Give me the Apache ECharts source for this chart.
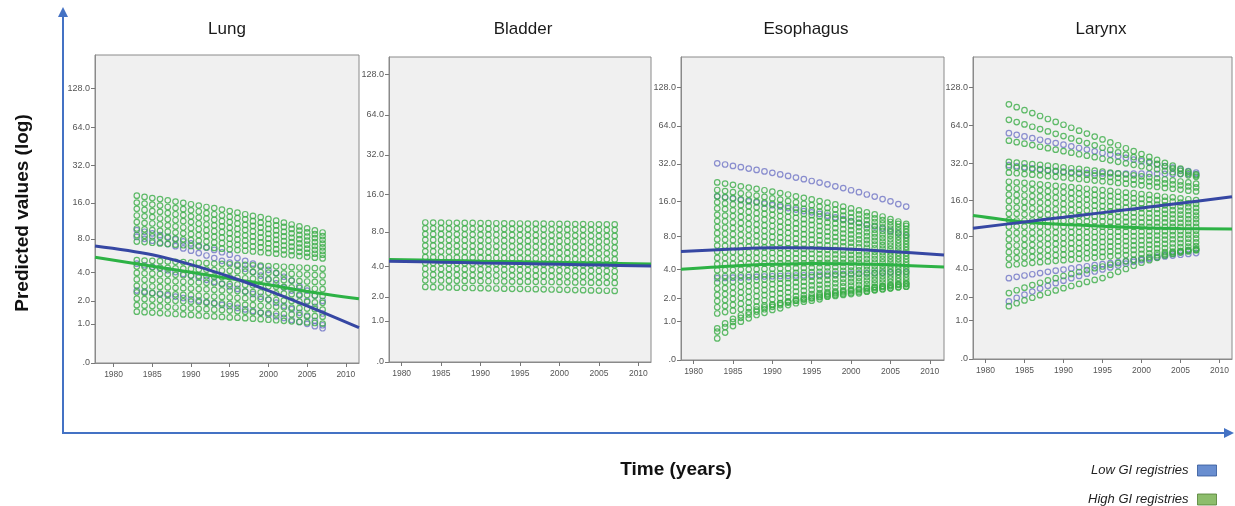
<!DOCTYPE html>
<html><head><meta charset="utf-8">
<script src="https://cdn.jsdelivr.net/npm/echarts@6/dist/echarts.min.js"></script>
<style>html,body{margin:0;padding:0;background:#fff}#c{width:1235px;height:506px}</style>
</head><body><div id="c"></div>
<script>
const years = [1983,1984,1985,1986,1987,1988,1989,1990,1991,1992,1993,1994,1995,1996,1997,1998,1999,2000,2001,2002,2003,2004,2005,2006,2007];
const yTickValues = [0,1,2,4,8,16,32,64,128];
const xTickYears = [1980,1985,1990,1995,2000,2005,2010];
const panelNames = ['Lung','Bladder','Esophagus','Larynx'];
const seriesNames = ['Low GI registries','High GI registries'];

// each row = one registry's predicted values over the years
const lungHigh = [
[7.58,7.49,7.4,7.3,7.21,7.12,7.03,6.93,6.84,6.75,6.66,6.56,6.47,6.38,6.29,6.19,6.1,6.01,5.92,5.82,5.73,5.64,5.55,5.45,5.36],
[8.63,8.51,8.39,8.28,8.16,8.04,7.92,7.8,7.68,7.57,7.45,7.33,7.21,7.09,6.97,6.86,6.74,6.62,6.5,6.38,6.26,6.15,6.03,5.91,5.79],
[9.8,9.65,9.51,9.36,9.21,9.06,8.92,8.77,8.62,8.47,8.33,8.18,8.03,7.88,7.74,7.59,7.44,7.29,7.15,7,6.85,6.7,6.56,6.41,6.26],
[11.1,10.9,10.8,10.6,10.4,10.2,10,9.85,9.66,9.48,9.3,9.12,8.94,8.75,8.57,8.39,8.21,8.03,7.84,7.66,7.48,7.3,7.12,6.93,6.75],
[12.6,12.4,12.2,11.9,11.7,11.5,11.3,11.1,10.8,10.6,10.4,10.2,9.94,9.72,9.5,9.27,9.05,8.83,8.61,8.39,8.17,7.94,7.72,7.5,7.28],
[14.3,14,13.7,13.5,13.2,12.9,12.7,12.4,12.1,11.9,11.6,11.3,11.1,10.8,10.5,10.3,9.99,9.72,9.45,9.19,8.92,8.65,8.38,8.12,7.85],
[16.1,15.8,15.5,15.2,14.8,14.5,14.2,13.9,13.6,13.2,12.9,12.6,12.3,12,11.7,11.3,11,10.7,10.4,10.1,9.73,9.41,9.09,8.77,8.45],
[18.3,17.9,17.5,17.2,16.8,16.4,16,15.6,15.2,14.8,14.5,14.1,13.7,13.3,12.9,12.5,12.2,11.8,11.4,11,10.6,10.2,9.84,9.45,9.07],
[1.48,1.46,1.44,1.42,1.4,1.38,1.36,1.34,1.32,1.3,1.28,1.26,1.24,1.23,1.21,1.19,1.17,1.15,1.13,1.11,1.09,1.07,1.05,1.03,1.01],
[1.78,1.76,1.74,1.72,1.7,1.67,1.65,1.63,1.61,1.59,1.57,1.55,1.53,1.5,1.48,1.46,1.44,1.42,1.4,1.38,1.36,1.33,1.31,1.29,1.27],
[2.12,2.1,2.07,2.05,2.03,2.01,1.98,1.96,1.94,1.91,1.89,1.87,1.85,1.82,1.8,1.78,1.75,1.73,1.71,1.68,1.66,1.64,1.62,1.59,1.57],
[2.49,2.47,2.44,2.42,2.39,2.37,2.34,2.32,2.29,2.27,2.24,2.22,2.19,2.17,2.15,2.12,2.1,2.07,2.05,2.02,2,1.97,1.95,1.92,1.9],
[2.92,2.89,2.87,2.84,2.81,2.78,2.76,2.73,2.7,2.68,2.65,2.62,2.6,2.57,2.54,2.51,2.49,2.46,2.43,2.41,2.38,2.35,2.33,2.3,2.27],
[3.39,3.36,3.33,3.3,3.27,3.24,3.21,3.19,3.16,3.13,3.1,3.07,3.04,3.01,2.98,2.95,2.92,2.89,2.86,2.84,2.81,2.78,2.75,2.72,2.69],
[3.92,3.89,3.86,3.83,3.8,3.76,3.73,3.7,3.67,3.64,3.61,3.58,3.55,3.51,3.48,3.45,3.42,3.39,3.36,3.33,3.3,3.26,3.23,3.2,3.17],
[4.51,4.48,4.44,4.41,4.38,4.34,4.31,4.28,4.24,4.21,4.18,4.14,4.11,4.08,4.04,4.01,3.98,3.94,3.91,3.88,3.84,3.81,3.78,3.74,3.71],
[5.17,5.13,5.1,5.06,5.03,4.99,4.96,4.92,4.88,4.85,4.81,4.78,4.74,4.7,4.67,4.63,4.6,4.56,4.53,4.49,4.45,4.42,4.38,4.35,4.31]
];
const lungLow = [
[9.5,9.2,8.9,8.6,8.3,7.9,7.6,7.3,7,6.7,6.4,6.1,5.8,5.4,5.1,4.8,4.5,4.2,3.9,3.6,3.3,2.9,2.6,2.3,2],
[8.3,8,7.7,7.4,7.2,6.9,6.6,6.3,6,5.7,5.4,5.1,4.9,4.6,4.3,4,3.7,3.4,3.1,2.8,2.6,2.3,2,1.7,1.4],
[4.8,4.64,4.48,4.32,4.16,4,3.84,3.68,3.52,3.36,3.2,3.04,2.88,2.71,2.55,2.39,2.23,2.07,1.91,1.75,1.59,1.43,1.27,1.11,0.95],
[2.6,2.53,2.45,2.38,2.31,2.24,2.16,2.09,2.02,1.94,1.87,1.8,1.73,1.65,1.58,1.51,1.43,1.36,1.29,1.22,1.14,1.07,1,0.92,0.85]
];
const bladderHigh = [
[2.55,2.54,2.53,2.52,2.51,2.5,2.49,2.48,2.47,2.46,2.45,2.44,2.44,2.43,2.42,2.41,2.4,2.39,2.38,2.37,2.36,2.35,2.34,2.33,2.32],
[2.97,2.96,2.96,2.95,2.94,2.93,2.93,2.92,2.91,2.91,2.9,2.89,2.88,2.88,2.87,2.86,2.86,2.85,2.84,2.83,2.83,2.82,2.81,2.81,2.8],
[3.38,3.37,3.36,3.36,3.35,3.34,3.34,3.33,3.32,3.31,3.31,3.3,3.29,3.28,3.28,3.27,3.26,3.25,3.25,3.24,3.23,3.22,3.22,3.21,3.2],
[3.83,3.82,3.81,3.81,3.8,3.79,3.78,3.77,3.76,3.76,3.75,3.74,3.73,3.72,3.71,3.71,3.7,3.69,3.68,3.67,3.66,3.66,3.65,3.64,3.63],
[4.33,4.32,4.31,4.3,4.29,4.29,4.28,4.27,4.26,4.25,4.24,4.23,4.22,4.22,4.21,4.2,4.19,4.18,4.17,4.16,4.15,4.15,4.14,4.13,4.12],
[4.87,4.86,4.85,4.84,4.83,4.82,4.82,4.81,4.8,4.79,4.78,4.77,4.76,4.75,4.74,4.73,4.72,4.71,4.7,4.69,4.68,4.67,4.67,4.66,4.65],
[5.48,5.47,5.46,5.45,5.44,5.43,5.42,5.41,5.4,5.39,5.38,5.37,5.37,5.36,5.35,5.34,5.33,5.32,5.31,5.3,5.29,5.28,5.27,5.26,5.25],
[6.14,6.13,6.12,6.11,6.1,6.09,6.08,6.07,6.06,6.05,6.04,6.03,6.02,6.01,6,5.99,5.98,5.97,5.96,5.95,5.94,5.93,5.92,5.91,5.9],
[6.87,6.86,6.85,6.84,6.83,6.82,6.81,6.8,6.79,6.78,6.77,6.76,6.75,6.73,6.72,6.71,6.7,6.69,6.68,6.67,6.66,6.65,6.64,6.63,6.62],
[7.67,7.66,7.65,7.64,7.63,7.61,7.6,7.59,7.58,7.57,7.56,7.55,7.54,7.52,7.51,7.5,7.49,7.48,7.47,7.46,7.45,7.43,7.42,7.41,7.4],
[8.56,8.55,8.54,8.52,8.51,8.5,8.49,8.48,8.46,8.45,8.44,8.43,8.42,8.4,8.39,8.38,8.37,8.36,8.34,8.33,8.32,8.31,8.29,8.28,8.27],
[9.54,9.53,9.51,9.5,9.48,9.47,9.46,9.44,9.43,9.41,9.4,9.38,9.37,9.36,9.34,9.33,9.31,9.3,9.29,9.27,9.26,9.24,9.23,9.21,9.2]
];
const bladderLow = [];
const esophagusHigh = [
[0.47,0.63,0.83,0.98,1.1,1.23,1.32,1.44,1.51,1.66,1.75,1.83,1.88,1.95,2.09,2.13,2.19,2.24,2.28,2.38,2.48,2.53,2.59,2.66,2.69],
[0.66,0.8,0.97,1.12,1.25,1.37,1.47,1.58,1.66,1.78,1.88,1.96,2.02,2.1,2.2,2.27,2.33,2.4,2.46,2.53,2.6,2.66,2.72,2.8,2.85],
[0.76,0.92,1.08,1.22,1.35,1.46,1.56,1.66,1.75,1.85,1.95,2.03,2.1,2.18,2.26,2.33,2.4,2.47,2.54,2.6,2.67,2.73,2.79,2.86,2.92],
[1.29,1.35,1.41,1.47,1.53,1.59,1.65,1.7,1.76,1.82,1.88,1.94,2,2.06,2.12,2.18,2.24,2.3,2.36,2.41,2.47,2.53,2.59,2.65,2.71],
[1.56,1.62,1.67,1.73,1.79,1.84,1.9,1.95,2.01,2.07,2.12,2.18,2.24,2.29,2.35,2.4,2.46,2.52,2.57,2.63,2.69,2.74,2.8,2.85,2.91],
[1.86,1.91,1.97,2.02,2.07,2.12,2.18,2.23,2.28,2.34,2.39,2.44,2.5,2.55,2.6,2.65,2.71,2.76,2.81,2.87,2.92,2.97,3.02,3.08,3.13],
[2.19,2.24,2.29,2.34,2.39,2.43,2.48,2.53,2.58,2.63,2.68,2.73,2.78,2.82,2.87,2.92,2.97,3.02,3.07,3.12,3.17,3.21,3.26,3.31,3.36],
[2.56,2.6,2.65,2.69,2.73,2.78,2.82,2.86,2.91,2.95,2.99,3.04,3.08,3.12,3.17,3.21,3.25,3.3,3.34,3.38,3.43,3.47,3.51,3.56,3.6],
[2.97,3.01,3.04,3.08,3.12,3.15,3.19,3.23,3.26,3.3,3.34,3.37,3.41,3.45,3.48,3.52,3.56,3.59,3.63,3.67,3.7,3.74,3.78,3.81,3.85],
[3.44,3.47,3.5,3.52,3.55,3.58,3.61,3.64,3.67,3.69,3.72,3.75,3.78,3.81,3.84,3.86,3.89,3.92,3.95,3.98,4.01,4.03,4.06,4.09,4.12],
[3.95,3.97,3.99,4.01,4.03,4.05,4.07,4.08,4.1,4.12,4.14,4.16,4.18,4.2,4.22,4.24,4.26,4.28,4.3,4.31,4.33,4.35,4.37,4.39,4.41],
[4.53,4.54,4.55,4.55,4.56,4.57,4.58,4.58,4.59,4.6,4.61,4.61,4.62,4.63,4.64,4.64,4.65,4.66,4.67,4.67,4.68,4.69,4.7,4.7,4.71],
[5.17,5.16,5.16,5.15,5.15,5.14,5.14,5.13,5.12,5.12,5.11,5.11,5.1,5.09,5.09,5.08,5.08,5.07,5.07,5.06,5.05,5.05,5.04,5.04,5.03],
[5.89,5.87,5.85,5.82,5.8,5.78,5.76,5.74,5.71,5.69,5.67,5.65,5.63,5.6,5.58,5.56,5.54,5.51,5.49,5.47,5.45,5.43,5.4,5.38,5.36],
[6.69,6.65,6.61,6.57,6.53,6.49,6.45,6.4,6.36,6.32,6.28,6.24,6.2,6.16,6.12,6.08,6.04,6,5.96,5.92,5.87,5.83,5.79,5.75,5.71],
[7.58,7.52,7.46,7.39,7.33,7.27,7.21,7.14,7.08,7.02,6.96,6.89,6.83,6.77,6.71,6.64,6.58,6.52,6.46,6.39,6.33,6.27,6.21,6.14,6.08],
[8.58,8.49,8.41,8.32,8.23,8.14,8.06,7.97,7.88,7.79,7.71,7.62,7.53,7.44,7.36,7.27,7.18,7.09,7.01,6.92,6.83,6.74,6.66,6.57,6.48],
[9.7,9.58,9.47,9.35,9.23,9.11,9,8.88,8.76,8.65,8.53,8.41,8.29,8.18,8.06,7.94,7.83,7.71,7.59,7.47,7.36,7.24,7.12,7.01,6.89],
[10.9,10.8,10.6,10.5,10.3,10.2,10,9.89,9.74,9.59,9.44,9.29,9.14,8.98,8.83,8.68,8.53,8.38,8.23,8.08,7.93,7.78,7.63,7.48,7.33],
[12.3,12.1,12,11.8,11.6,11.4,11.2,11,10.8,10.6,10.4,10.3,10.1,9.87,9.68,9.49,9.3,9.11,8.92,8.74,8.55,8.36,8.17,7.98,7.79],
[13.9,13.7,13.4,13.2,13,12.7,12.5,12.3,12,11.8,11.6,11.3,11.1,10.9,10.6,10.4,10.2,9.91,9.68,9.45,9.21,8.98,8.75,8.51,8.28],
[15.6,15.3,15,14.8,14.5,14.2,13.9,13.6,13.3,13.1,12.8,12.5,12.2,11.9,11.6,11.4,11.1,10.8,10.5,10.2,9.93,9.65,9.37,9.08,8.8],
[17.5,17.2,16.9,16.5,16.2,15.8,15.5,15.2,14.8,14.5,14.1,13.8,13.4,13.1,12.8,12.4,12.1,11.7,11.4,11.1,10.7,10.4,10,9.68,9.34],
[19.7,19.3,18.9,18.5,18.1,17.7,17.3,16.8,16.4,16,15.6,15.2,14.8,14.4,14,13.6,13.2,12.8,12.4,12,11.5,11.1,10.7,10.3,9.91],
[22.7,22.2,21.7,21.1,20.6,20.1,19.6,19.1,18.6,18.1,17.5,17,16.5,16,15.5,15,14.4,13.9,13.4,12.9,12.4,11.9,11.3,10.8,10.3]
];
const esophagusLow = [
[32.3,31.6,30.8,30.1,29.3,28.6,27.8,27.1,26.3,25.6,24.8,24.1,23.3,22.6,21.9,21.1,20.4,19.6,18.9,18.1,17.4,16.6,15.9,15.1,14.4],
[17.5,17.1,16.7,16.3,15.9,15.6,15.2,14.8,14.4,14,13.6,13.2,12.9,12.5,12.1,11.7,11.3,10.9,10.5,10.1,9.8,9.4,9,8.6,8.2],
[3.3,3.32,3.34,3.36,3.38,3.4,3.43,3.45,3.47,3.49,3.51,3.53,3.55,3.57,3.59,3.61,3.63,3.66,3.68,3.7,3.72,3.74,3.76,3.78,3.8]
];
const larynxHigh = [
[94,89.2,84.6,80.2,76.1,72.1,68.4,64.9,61.5,58.3,55.3,52.4,49.7,47.1,44.7,42.3,40.1,38,36.1,34.2,32.4,30.7,29.1,27.5,26.1],
[71,68.1,65.3,62.6,60,57.5,55.1,52.8,50.6,48.5,46.5,44.6,42.7,41,39.2,37.6,36,34.5,33.1,31.7,30.4,29.1,27.9,26.7,25.6],
[48.6,47.3,46,44.8,43.5,42.4,41.2,40.1,39,37.9,36.9,35.9,34.9,33.9,33,32.1,31.2,30.4,29.5,28.7,27.9,27.2,26.4,25.7,25],
[33,32.5,32.1,31.6,31.2,30.7,30.3,29.8,29.3,28.9,28.4,28,27.5,27,26.6,26.1,25.7,25.2,24.8,24.3,23.8,23.4,22.9,22.5,22],
[30,29.6,29.2,28.8,28.4,28,27.6,27.2,26.8,26.4,26,25.6,25.2,24.9,24.5,24.1,23.7,23.3,22.9,22.5,22.1,21.7,21.3,20.9,20.5],
[27,26.7,26.3,26,25.7,25.3,25,24.7,24.3,24,23.7,23.3,23,22.7,22.3,22,21.7,21.3,21,20.7,20.3,20,19.7,19.3,19],
[22.8,22.5,22.3,22,21.7,21.4,21.1,20.9,20.6,20.3,20,19.7,19.5,19.2,18.9,18.6,18.4,18.1,17.8,17.5,17.2,17,16.7,16.4,16.1],
[20.2,20,19.8,19.6,19.4,19.1,18.9,18.7,18.5,18.3,18,17.8,17.6,17.4,17.2,17,16.7,16.5,16.3,16.1,15.9,15.7,15.4,15.2,15],
[17.9,17.8,17.6,17.4,17.3,17.1,16.9,16.8,16.6,16.4,16.3,16.1,15.9,15.8,15.6,15.4,15.3,15.1,14.9,14.8,14.6,14.4,14.3,14.1,13.9],
[15.9,15.8,15.6,15.5,15.4,15.3,15.2,15,14.9,14.8,14.7,14.5,14.4,14.3,14.2,14,13.9,13.8,13.7,13.6,13.4,13.3,13.2,13.1,12.9],
[14,14,13.9,13.8,13.7,13.6,13.5,13.5,13.4,13.3,13.2,13.1,13,13,12.9,12.8,12.7,12.6,12.5,12.5,12.4,12.3,12.2,12.1,12],
[12.4,12.4,12.3,12.3,12.2,12.2,12.1,12.1,12,12,11.9,11.8,11.8,11.7,11.7,11.6,11.6,11.5,11.5,11.4,11.4,11.3,11.3,11.2,11.2],
[11,10.9,10.9,10.9,10.9,10.8,10.8,10.8,10.8,10.7,10.7,10.7,10.7,10.6,10.6,10.6,10.6,10.5,10.5,10.5,10.5,10.4,10.4,10.4,10.4],
[9.68,9.68,9.67,9.67,9.67,9.66,9.66,9.66,9.65,9.65,9.65,9.64,9.64,9.64,9.63,9.63,9.63,9.62,9.62,9.62,9.61,9.61,9.61,9.6,9.6],
[8.52,8.54,8.55,8.57,8.58,8.6,8.61,8.63,8.65,8.66,8.68,8.69,8.71,8.73,8.74,8.76,8.77,8.79,8.8,8.82,8.84,8.85,8.87,8.88,8.9],
[7.48,7.51,7.54,7.58,7.61,7.64,7.67,7.7,7.73,7.77,7.8,7.83,7.86,7.89,7.92,7.96,7.99,8.02,8.05,8.08,8.11,8.15,8.18,8.21,8.24],
[6.57,6.61,6.66,6.7,6.75,6.79,6.84,6.88,6.93,6.97,7.02,7.06,7.11,7.15,7.19,7.24,7.28,7.33,7.37,7.42,7.46,7.51,7.55,7.6,7.64],
[5.75,5.8,5.86,5.91,5.97,6.02,6.08,6.13,6.19,6.24,6.3,6.35,6.41,6.46,6.51,6.57,6.62,6.68,6.73,6.79,6.84,6.9,6.95,7.01,7.06],
[5.02,5.08,5.15,5.21,5.27,5.33,5.4,5.46,5.52,5.59,5.65,5.71,5.78,5.84,5.9,5.96,6.03,6.09,6.15,6.22,6.28,6.34,6.4,6.47,6.53],
[4.37,4.44,4.51,4.58,4.65,4.72,4.79,4.85,4.92,4.99,5.06,5.13,5.2,5.27,5.34,5.41,5.48,5.55,5.62,5.68,5.75,5.82,5.89,5.96,6.03],
[2.25,2.42,2.58,2.75,2.91,3.08,3.24,3.41,3.57,3.74,3.9,4.07,4.23,4.4,4.56,4.73,4.89,5.06,5.22,5.39,5.55,5.72,5.88,6.05,6.2],
[1.57,1.71,1.85,1.99,2.13,2.27,2.41,2.55,2.69,2.83,2.97,3.11,3.25,3.5,3.75,4,4.3,4.6,4.85,5.1,5.35,5.55,5.7,5.85,6]
];
const larynxLow = [
[55.7,54.1,52.5,50.9,49.4,48,46.5,45.2,43.8,42.5,41.3,40,38.8,37.7,36.6,35.5,34.4,33.4,32.4,31.4,30.5,29.6,28.7,27.8,27],
[31,30.4,29.8,29.3,28.8,28.3,27.9,27.5,27.2,27,26.8,26.7,26.6,26.6,26.5,26.5,26.5,26.5,26.4,26.4,26.4,26.3,26.3,26.3,26.2],
[3.24,3.35,3.45,3.55,3.65,3.75,3.85,3.95,4.05,4.15,4.25,4.35,4.45,4.55,4.65,4.75,4.85,4.95,5.05,5.15,5.25,5.35,5.45,5.55,5.65],
[1.8,1.98,2.16,2.34,2.52,2.7,2.88,3.06,3.24,3.42,3.6,3.78,3.96,4.14,4.32,4.5,4.68,4.86,5.04,5.22,5.4,5.58,5.76,5.94,6.1]
];

// fitted curves (years and values)
const lungFitYears = [1977.6,1985,1990,1995,2000,2005,2011.7];
const lungLowFit = [6.93,5.8,4.7,3.6,2.6,1.75,0.87];
const lungHighFit = [5.49,4.55,3.98,3.45,3.0,2.55,2.12];
const bladderFitYears = [1978.4,1985,1990,1995,2000,2005,2011.6];
const bladderLowFit = [4.48,4.4,4.33,4.27,4.2,4.14,4.06];
const bladderHighFit = [4.64,4.56,4.49,4.43,4.37,4.31,4.23];
const esophagusFitYears = [1978.4,1985,1990,1995,2000,2005,2011.8];
const esophagusLowFit = [5.9,6.22,6.38,6.36,6.2,5.92,5.5];
const esophagusHighFit = [4.05,4.35,4.5,4.58,4.55,4.45,4.25];
const larynxFitYears = [1978.4,1985,1990,1995,2000,2005,2011.6];
const larynxLowFit = [9.36,10.6,11.6,12.7,13.9,15.2,17.2];
const larynxHighFit = [12.0,10.6,10.1,9.75,9.45,9.3,9.2];

const panels = [
  {high: lungHigh, low: lungLow, fy: lungFitYears, hf: lungHighFit, lf: lungLowFit},
  {high: bladderHigh, low: bladderLow, fy: bladderFitYears, hf: bladderHighFit, lf: bladderLowFit},
  {high: esophagusHigh, low: esophagusLow, fy: esophagusFitYears, hf: esophagusHighFit, lf: esophagusLowFit},
  {high: larynxHigh, low: larynxLow, fy: larynxFitYears, hf: larynxHighFit, lf: larynxLowFit}
];
const layout = [
  {g:{left:95,top:55,width:264,height:308}, xmin:1977.6, xmax:2011.7, ymax:5.45, tx:227},
  {g:{left:389,top:57,width:262,height:305}, xmin:1978.4, xmax:2011.6, ymax:5.15, tx:523},
  {g:{left:681,top:57,width:263,height:303}, xmin:1978.4, xmax:2011.8, ymax:5.40, tx:806},
  {g:{left:973,top:57,width:259,height:302}, xmin:1978.4, xmax:2011.6, ymax:5.40, tx:1101}
];

const FONT = '"Liberation Sans", Arial, Helvetica, sans-serif';
const tf = v => Math.log(v + 1);   // axis scale: log(value + 1)
const yTickPos = yTickValues.map(tf);
const toPoints = rows => rows.flatMap(row => row.map((v, j) => [years[j], tf(v)]));

const grid = [], xAxis = [], yAxis = [], series = [];
const BLUE_PT = '#6f74c6', GREEN_PT = '#3aad46', BLUE_LN = '#3647a3', GREEN_LN = '#2db245';

panels.forEach((p, i) => {
  const L = layout[i];
  grid.push(Object.assign({show:true, backgroundColor:'#f0f0f0', borderColor:'#8a8a8a', borderWidth:1, containLabel:false}, L.g));
  xAxis.push({
    gridIndex:i, type:'value', min:L.xmin, max:L.xmax,
    axisLine:{show:true, onZero:false, lineStyle:{color:'#8a8a8a', width:1}},
    axisTick:{show:true, customValues:xTickYears, length:4, lineStyle:{color:'#777'}},
    axisLabel:{customValues:xTickYears, fontSize:8.5, color:'#555', margin:7, fontFamily:FONT,
      formatter: val => String(Math.round(val))},
    splitLine:{show:false}
  });
  yAxis.push({
    gridIndex:i, type:'value', min:0, max:L.ymax,
    axisLine:{show:true, onZero:false, lineStyle:{color:'#8a8a8a', width:1}},
    axisTick:{show:true, customValues:yTickPos, length:4, lineStyle:{color:'#777'}},
    axisLabel:{customValues:yTickPos, fontSize:9, color:'#555', margin:5, fontFamily:FONT,
      formatter: val => { const v = Math.round(Math.exp(val) - 1); return v === 0 ? '.0' : v.toFixed(1); }},
    splitLine:{show:false}
  });
  series.push({type:'scatter', name:seriesNames[0], xAxisIndex:i, yAxisIndex:i, data:toPoints(p.low),
    symbol:'circle', symbolSize:5.5, silent:true, z:2,
    itemStyle:{color:'rgba(0,0,0,0)', borderColor:BLUE_PT, borderWidth:1.2}});
  series.push({type:'scatter', name:seriesNames[1], xAxisIndex:i, yAxisIndex:i, data:toPoints(p.high),
    symbol:'circle', symbolSize:5.5, silent:true, z:3,
    itemStyle:{color:'rgba(0,0,0,0)', borderColor:GREEN_PT, borderWidth:1.2}});
  series.push({type:'line', name:seriesNames[1], xAxisIndex:i, yAxisIndex:i,
    data:p.fy.map((y, k) => [y, tf(p.hf[k])]), smooth:0.35, showSymbol:false, silent:true, z:4,
    lineStyle:{color:GREEN_LN, width:3}, itemStyle:{color:GREEN_LN}});
  series.push({type:'line', name:seriesNames[0], xAxisIndex:i, yAxisIndex:i,
    data:p.fy.map((y, k) => [y, tf(p.lf[k])]), smooth:0.35, showSymbol:false, silent:true, z:5,
    lineStyle:{color:BLUE_LN, width:3}, itemStyle:{color:BLUE_LN}});
});

const AX = '#4472c4';
const graphic = [
  {type:'line', shape:{x1:63, y1:433, x2:63, y2:15}, style:{stroke:AX, lineWidth:2}},
  {type:'polygon', shape:{points:[[58,17],[68,17],[63,7]]}, style:{fill:AX}},
  {type:'line', shape:{x1:62, y1:433, x2:1225, y2:433}, style:{stroke:AX, lineWidth:2}},
  {type:'polygon', shape:{points:[[1224,428],[1224,438],[1234,433]]}, style:{fill:AX}},
  {type:'text', x:23, y:213, rotation:Math.PI/2,
    style:{text:'Predicted values (log)', font:'bold 19px ' + FONT, fill:'#111', textAlign:'center', textVerticalAlign:'middle'}},
  {type:'text', x:676, y:470,
    style:{text:'Time (years)', font:'bold 19px ' + FONT, fill:'#111', textAlign:'center', textVerticalAlign:'middle'}}
];
panelNames.forEach((n, i) => graphic.push({type:'text', x:layout[i].tx, y:29,
  style:{text:n, font:'17px ' + FONT, fill:'#1a1a1a', textAlign:'center', textVerticalAlign:'middle'}}));

const legendBase = {orient:'vertical', right:18, align:'right', icon:'rect', itemWidth:19, itemHeight:11,
  selectedMode:false, padding:0, textStyle:{fontStyle:'italic', fontSize:13, color:'#222', fontFamily:FONT, padding:[0,4,0,0]}};
const chart = echarts.init(document.getElementById('c'), null, {renderer:'canvas'});
chart.setOption({
  animation:false,
  backgroundColor:'#ffffff',
  grid, xAxis, yAxis, series, graphic,
  legend:[
    Object.assign({}, legendBase, {top:464, data:[{name:seriesNames[0], itemStyle:{color:'#4472c4', borderColor:'#2f5597', borderWidth:1}}]}),
    Object.assign({}, legendBase, {top:493, data:[{name:seriesNames[1], itemStyle:{color:'#70ad47', borderColor:'#507e32', borderWidth:1}}]})
  ]
});
</script></body></html>
